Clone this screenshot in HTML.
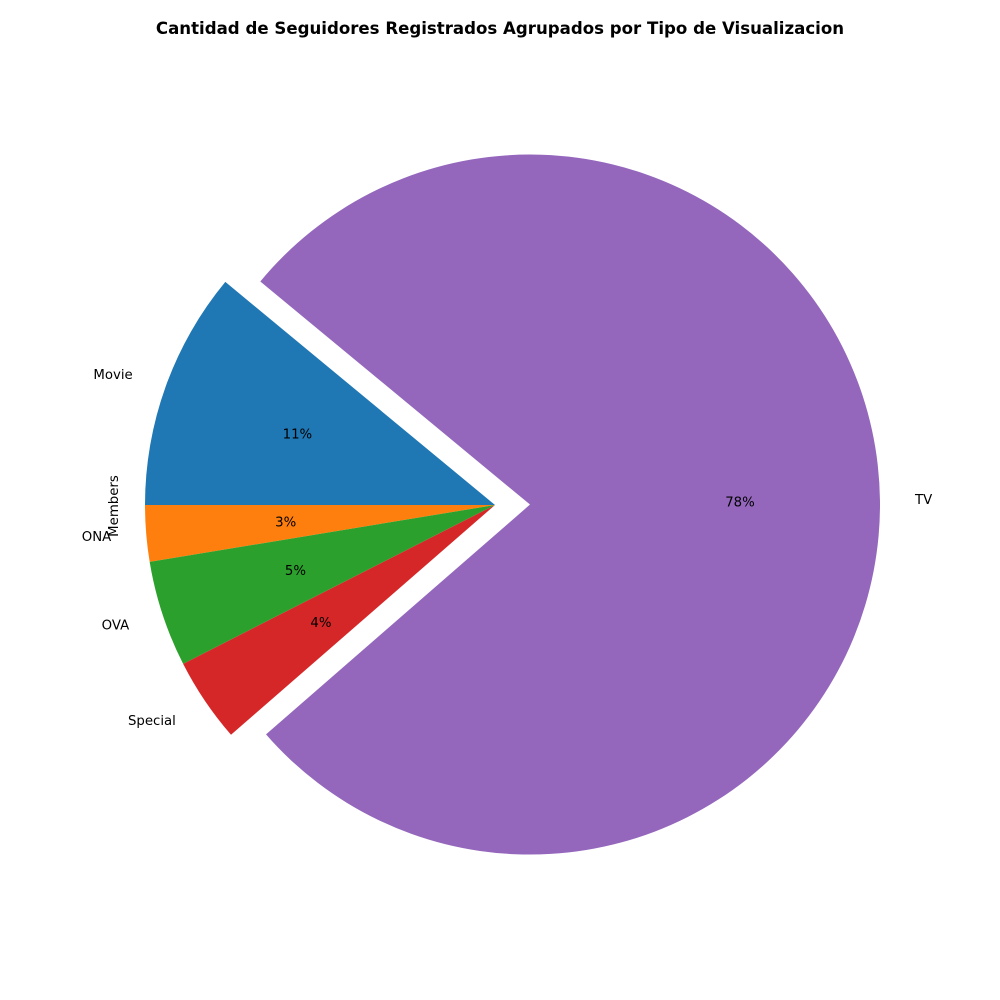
<!DOCTYPE html>
<html><head><meta charset="utf-8"><style>
body{margin:0;background:#fff}
svg{display:block;font-family:"DejaVu Sans","Liberation Sans",sans-serif}
</style></head><body>
<svg id="chart" width="1000" height="1000" viewBox="0 0 1000 1000">
<rect width="1000" height="1000" fill="#fff"/>
<text x="500" y="34" text-anchor="middle" font-size="16.6" font-weight="bold">Cantidad de Seguidores Registrados Agrupados por Tipo de Visualizacion</text>
<text x="0" y="0" transform="translate(118,506) rotate(-90)" text-anchor="middle" font-size="13.3">Members</text>
<g id="slices"></g>
</svg>
<script>
const categories = ["Movie","ONA","OVA","Special","TV"];
const values = [11.0, 2.6, 4.9, 3.9, 77.6];
const explode = [0, 0, 0, 0, 0.1];
const colors = ["#1f77b4","#ff7f0e","#2ca02c","#d62728","#9467bd"];
const startAngle = 140.4;
const cx = 495, cy = 505, R = 350;
const NS = "http://www.w3.org/2000/svg";
const g = document.getElementById("slices");
const total = values.reduce((a,b)=>a+b,0);
let a0 = startAngle;
function pt(x,y,r,deg){const t=deg*Math.PI/180;return [x+r*Math.cos(t), y-r*Math.sin(t)];}
values.forEach((v,i)=>{
  const sweep = v/total*360;
  const a1 = a0 + sweep;
  const mid = (a0+a1)/2;
  const [ox,oy] = pt(cx,cy,explode[i]*R,mid);
  const p0 = pt(ox,oy,R,a0), p1 = pt(ox,oy,R,a1);
  const large = sweep>180?1:0;
  const path = document.createElementNS(NS,"path");
  path.setAttribute("d",`M${ox},${oy} L${p0[0]},${p0[1]} A${R},${R} 0 ${large} 0 ${p1[0]},${p1[1]} Z`);
  path.setAttribute("fill",colors[i]);
  
  
  g.appendChild(path);
  const [lx,ly] = pt(ox,oy,R*1.1,mid);
  const lab = document.createElementNS(NS,"text");
  lab.setAttribute("x",lx); lab.setAttribute("y",ly+4.5);
  lab.setAttribute("font-size","13.3");
  lab.setAttribute("text-anchor", Math.cos(mid*Math.PI/180)<0?"end":"start");
  lab.textContent = categories[i];
  
  
  g.appendChild(lab);
  const [px,py] = pt(ox,oy,R*0.6,mid);
  const pc = document.createElementNS(NS,"text");
  pc.setAttribute("x",px); pc.setAttribute("y",py+4.5);
  pc.setAttribute("font-size","13.3");
  pc.setAttribute("text-anchor","middle");
  pc.textContent = Math.round(v/total*100)+"%";
  
  
  g.appendChild(pc);
  a0 = a1;
});
</script>
</body></html>
